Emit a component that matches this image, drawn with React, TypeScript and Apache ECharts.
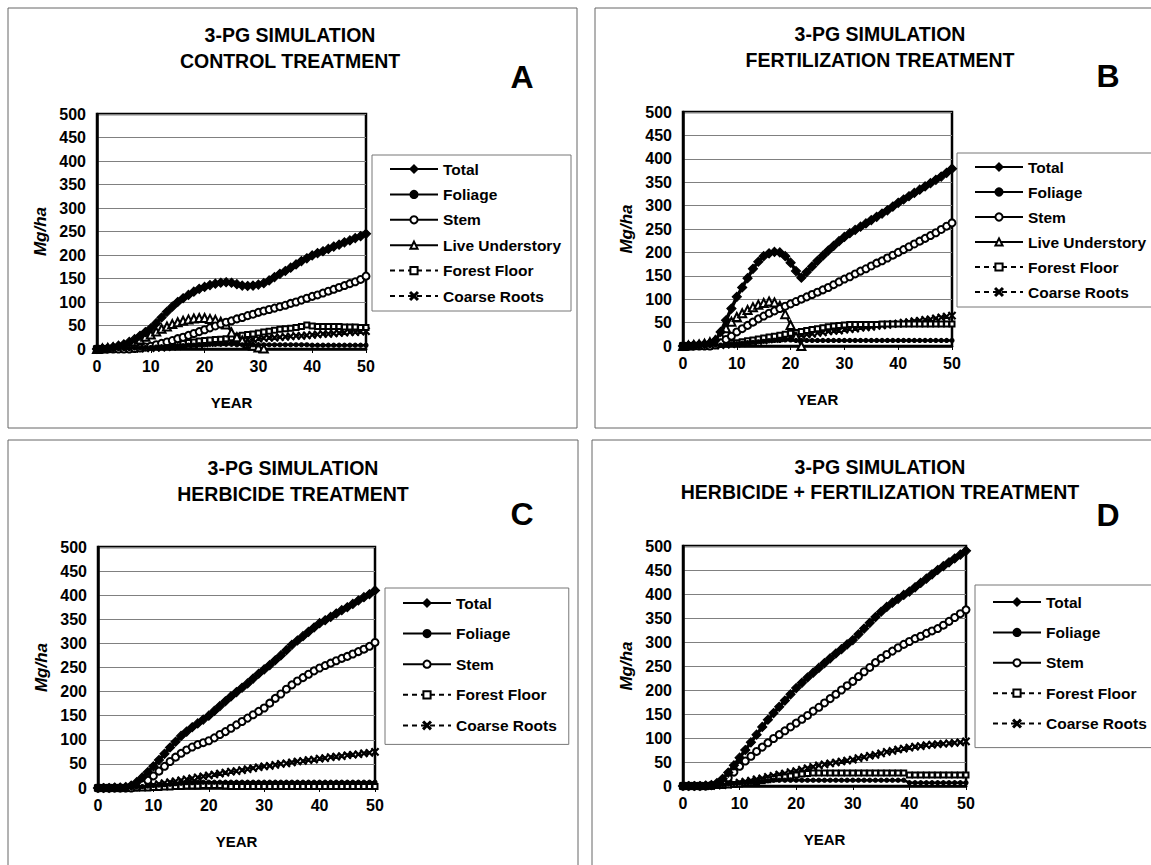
import React, { useEffect, useRef } from "react";
import * as echarts from "echarts";

const YEARS = [0,1,2,3,4,5,6,7,8,9,10,11,12,13,14,15,16,17,18,19,20,21,22,23,24,25,26,27,28,29,30,31,32,33,34,35,36,37,38,39,40,41,42,43,44,45,46,47,48,49,50];
const X_TICKS = [0, 10, 20, 30, 40, 50];
const Y_TICKS = [0, 50, 100, 150, 200, 250, 300, 350, 400, 450, 500];

// Panel A - Control
const A_TOTAL = [0,1,2,4,7,10,15,21,28,36,44,55,67,79,90,100,108,115,122,128,132,136,139,141,142,141,138,135,134,135,137,140,146,153,160,166,173,180,187,193,199,204,208,213,218,222,227,231,236,240,245];
const A_FOLIAGE = [0,0,0,0,1,1,1,2,2,3,3,4,5,5,6,7,7,8,8,9,9,10,10,10,10,10,9,9,9,9,9,9,9,9,9,9,9,9,9,9,8,8,8,8,8,8,8,8,8,8,8];
const A_STEM = [0,0,0,0,0,0,0,1,2,4,6,9,12,15,18,22,25,29,33,37,41,45,49,53,57,60,64,67,71,74,78,81,84,87,90,93,97,100,104,108,112,115,119,123,127,131,135,139,143,148,155];
const A_LIVE = [0,1,2,3,5,7,10,14,20,26,31,37,43,48,53,57,60,63,65,66,66,64,62,58,52,35,25,18,12,7,3,1];
const A_FLOOR = [0,0,0,1,1,2,2,3,4,5,6,7,8,9,10,11,12,14,15,17,18,19,20,21,22,24,27,29,31,32,34,36,38,40,42,43,44,46,48,51,49,48,48,48,48,48,47,47,47,46,46];
const A_ROOTS = [0,0,0,0,0,0,1,1,1,2,2,3,3,4,5,6,7,8,9,10,12,13,14,15,16,17,18,19,20,21,22,23,24,24,25,26,27,28,28,29,30,31,32,32,33,34,35,36,36,37,38];

// Panel B - Fertilization
const B_TOTAL = [0,1,2,3,4,6,12,30,55,80,105,125,145,165,180,192,198,201,200,192,178,160,146,158,170,182,193,204,214,224,233,241,248,255,262,269,276,283,290,298,306,313,320,327,334,341,348,355,362,370,379];
const B_FOLIAGE = [0,0,0,0,1,1,2,2,3,4,5,6,7,8,9,10,11,12,12,13,13,12,12,12,12,12,12,12,12,12,12,12,12,12,12,12,12,12,12,12,12,12,12,12,12,12,12,12,12,12,12];
const B_STEM = [0,0,0,0,0,0,2,7,14,21,30,37,44,51,58,64,70,75,80,85,90,95,100,105,110,115,120,125,131,137,143,148,154,160,165,171,177,182,188,194,200,206,212,218,224,230,236,242,249,256,263];
const B_LIVE = [0,1,2,3,5,8,12,22,38,52,62,70,77,83,88,92,95,93,86,68,45,20,0];
const B_FLOOR = [0,0,0,1,1,2,3,4,5,6,7,9,11,13,15,17,19,21,23,25,27,29,31,33,35,37,39,41,43,44,45,46,46,46,46,46,46,47,47,47,47,47,47,47,47,47,47,47,47,47,47];
const B_ROOTS = [0,0,0,0,0,1,1,2,3,4,5,6,8,9,11,12,14,15,17,19,20,22,23,25,26,28,29,31,32,33,35,36,37,39,40,41,43,44,45,47,48,50,51,53,54,56,57,59,61,63,65];

// Panel C - Herbicide
const C_TOTAL = [0,0,0,1,1,2,5,12,22,33,45,58,71,84,96,108,117,126,134,142,150,160,170,180,190,199,208,217,227,237,246,255,265,275,286,297,306,315,324,333,342,348,355,362,369,375,382,389,396,402,410];
const C_FOLIAGE = [0,0,0,0,0,1,1,2,3,4,5,6,7,8,9,10,11,11,12,12,12,12,12,12,12,12,12,12,12,12,12,12,12,12,12,12,12,12,12,12,12,12,12,12,12,12,12,12,12,12,12];
const C_STEM = [0,0,0,0,0,0,0,2,8,16,25,35,45,55,64,72,79,85,90,94,98,104,111,117,124,131,138,145,152,159,166,176,186,195,205,214,222,229,236,243,249,254,259,264,269,273,278,283,288,294,302];
const C_FLOOR = [0,0,0,0,0,0,0,0,0,0,1,1,2,2,3,3,4,4,4,5,5,5,5,4,3,3,3,3,3,3,3,3,3,3,3,3,3,3,3,3,3,3,3,3,3,3,3,3,3,3,3];
const C_ROOTS = [0,0,0,0,0,0,1,2,3,4,6,8,10,12,14,16,18,20,22,24,26,28,30,32,34,35,37,39,41,43,45,46,48,50,51,53,55,56,58,59,61,62,64,65,66,68,69,70,72,73,75];

// Panel D - Herbicide + Fertilization
const D_TOTAL = [0,0,0,0,1,2,6,15,28,43,59,75,91,107,123,138,152,165,178,191,204,215,226,236,246,256,266,276,285,295,304,316,328,340,352,363,373,382,390,398,405,414,423,432,441,450,458,466,474,482,490];
const D_FOLIAGE = [0,0,0,0,0,1,2,3,4,5,6,7,8,9,10,11,12,12,12,12,12,12,12,12,12,12,12,12,12,12,12,12,12,12,12,12,12,12,12,12,7,7,7,7,7,7,7,7,7,7,7];
const D_STEM = [0,0,0,0,0,1,3,8,17,29,41,52,62,72,81,90,99,107,115,123,131,139,147,156,164,173,182,191,200,209,218,228,238,247,257,266,274,281,288,295,301,307,312,318,323,328,335,343,351,359,367];
const D_FLOOR = [0,0,0,0,0,0,1,1,2,3,4,5,7,9,11,13,15,17,19,21,23,25,26,27,27,27,27,27,27,27,27,27,27,27,27,27,27,27,27,27,23,23,23,23,23,23,23,23,23,23,23];
const D_ROOTS = [0,0,0,0,0,0,1,2,3,5,7,9,11,14,16,19,21,24,26,29,31,34,37,40,43,45,47,49,51,53,55,58,60,63,65,68,71,73,76,78,80,82,83,85,86,87,88,89,90,91,93];

const NAMES_FULL = ["Total", "Foliage", "Stem", "Live Understory", "Forest Floor", "Coarse Roots"];
const NAMES_SHORT = ["Total", "Foliage", "Stem", "Forest Floor", "Coarse Roots"];

const FONT = '"Liberation Sans", Arial, sans-serif';
const XPATH = "path://M1,0L5,4L9,0L10,1L6,5L10,9L9,10L5,6L1,10L0,9L4,5L0,1Z";

const STYLE: Record<string, any> = {
  Total: { width: 3.5, type: "solid", symbol: "diamond", size: 9, z: 9 },
  Foliage: { width: 2.5, type: "solid", symbol: "circle", size: 4, z: 8 },
  Stem: { width: 1.2, type: "solid", symbol: "emptyCircle", size: 7, z: 7 },
  "Live Understory": { width: 2, type: "solid", symbol: "emptyTriangle", size: 8, z: 6 },
  "Forest Floor": { width: 2, type: [5, 4], symbol: "emptyRect", size: 5, z: 5 },
  "Coarse Roots": { width: 2, type: [5, 4], symbol: XPATH, size: 7, z: 4 },
};

const PANELS = [
  { grid: { left: 97, top: 114, width: 269, height: 235 }, names: NAMES_FULL, data: [A_TOTAL, A_FOLIAGE, A_STEM, A_LIVE, A_FLOOR, A_ROOTS],
    legend: { left: 372, top: 155, padding: [6, 10, 7, 17], itemGap: 9.4 } },
  { grid: { left: 683, top: 112, width: 269, height: 234 }, names: NAMES_FULL, data: [B_TOTAL, B_FOLIAGE, B_STEM, B_LIVE, B_FLOOR, B_ROOTS],
    legend: { left: 957, top: 153, padding: [6, 12, 7, 17], itemGap: 9 } },
  { grid: { left: 98, top: 547, width: 277, height: 241 }, names: NAMES_SHORT, data: [C_TOTAL, C_FOLIAGE, C_STEM, C_FLOOR, C_ROOTS],
    legend: { left: 385, top: 588, padding: [7, 12, 11, 17], itemGap: 14.6 } },
  { grid: { left: 683, top: 546, width: 283, height: 240 }, names: NAMES_SHORT, data: [D_TOTAL, D_FOLIAGE, D_STEM, D_FLOOR, D_ROOTS],
    legend: { left: 975, top: 585, padding: [9, 12, 16, 17], itemGap: 14.4 } },
];

const TITLES = [
  { x: 290, y1: 35, y2: 61, t2: "CONTROL TREATMENT", letter: "A", lx: 522, ly: 77 },
  { x: 880, y1: 34, y2: 60, t2: "FERTILIZATION TREATMENT", letter: "B", lx: 1108, ly: 76 },
  { x: 293, y1: 468, y2: 494, t2: "HERBICIDE TREATMENT", letter: "C", lx: 522, ly: 514 },
  { x: 880, y1: 467, y2: 492, t2: "HERBICIDE + FERTILIZATION TREATMENT", letter: "D", lx: 1108, ly: 515 },
];

const BOXES = [
  { x: 8, y: 8, width: 569, height: 420 },
  { x: 595, y: 8, width: 600, height: 420 },
  { x: 8, y: 440, width: 570, height: 440 },
  { x: 592, y: 440, width: 600, height: 440 },
];

function buildOption() {
  const grids: any[] = [];
  const xAxes: any[] = [];
  const yAxes: any[] = [];
  const series: any[] = [];
  const legends: any[] = [];
  PANELS.forEach((p, i) => {
    grids.push({ ...p.grid, show: true, borderColor: "#000", borderWidth: 2.5, backgroundColor: "#fff" });
    xAxes.push({
      type: "value", gridIndex: i, min: X_TICKS[0], max: X_TICKS[X_TICKS.length - 1], interval: 10,
      name: "YEAR", nameLocation: "middle", nameGap: 46,
      nameTextStyle: { fontFamily: FONT, fontWeight: "bold", fontSize: 15, color: "#000" },
      axisLine: { show: true, onZero: false, lineStyle: { color: "#000", width: 2.5 } },
      axisTick: { show: true, length: 4, lineStyle: { color: "#000", width: 1 } },
      axisLabel: { fontFamily: FONT, fontWeight: "bold", fontSize: 16, color: "#000", margin: 9 },
      splitLine: { show: false },
    });
    yAxes.push({
      type: "value", gridIndex: i, min: Y_TICKS[0], max: Y_TICKS[Y_TICKS.length - 1], interval: 50,
      name: "Mg/ha", nameLocation: "middle", nameGap: 48, nameRotate: 90,
      nameTextStyle: { fontFamily: FONT, fontWeight: "bold", fontStyle: "italic", fontSize: 17, color: "#000" },
      axisLine: { show: true, lineStyle: { color: "#000", width: 2.5 } },
      axisTick: { show: false },
      axisLabel: { fontFamily: FONT, fontWeight: "bold", fontSize: 16, color: "#000", margin: 11 },
      splitLine: { show: true, lineStyle: { color: "#808080", width: 1 } },
    });
    p.names.forEach((name, k) => {
      const st = STYLE[name];
      const vals = p.data[k];
      series.push({
        type: "line", name, xAxisIndex: i, yAxisIndex: i,
        data: vals.map((v, j) => [YEARS[j], v]),
        showSymbol: true, symbol: st.symbol, symbolSize: st.size, z: st.z,
        lineStyle: { color: "#000", width: st.width, type: st.type },
        itemStyle: { color: "#000", borderColor: "#000", borderWidth: 1.2 },
        emphasis: { disabled: true }, silent: true,
      });
    });
    legends.push({
      data: p.names, orient: "vertical", left: p.legend.left, top: p.legend.top,
      padding: p.legend.padding, itemGap: p.legend.itemGap, itemWidth: 48, itemHeight: 9,
      borderColor: "#777", borderWidth: 1, backgroundColor: "#fff",
      textStyle: { fontFamily: FONT, fontWeight: "bold", fontSize: 15.5, color: "#000" },
      selectedMode: false,
    });
  });

  const graphic: any[] = [];
  BOXES.forEach((b) => {
    graphic.push({ type: "rect", shape: b, style: { fill: "none", stroke: "#666", lineWidth: 1 }, z: -1, silent: true });
  });
  TITLES.forEach((t) => {
    graphic.push({ type: "text", x: t.x, y: t.y1, style: { text: "3-PG SIMULATION", font: `bold 19.5px ${FONT}`, fill: "#000", align: "center", verticalAlign: "middle" } });
    graphic.push({ type: "text", x: t.x, y: t.y2, style: { text: t.t2, font: `bold 19.5px ${FONT}`, fill: "#000", align: "center", verticalAlign: "middle" } });
    graphic.push({ type: "text", x: t.lx, y: t.ly, style: { text: t.letter, font: `bold 32px ${FONT}`, fill: "#000", align: "center", verticalAlign: "middle" } });
  });

  return {
    animation: false,
    backgroundColor: "#fff",
    grid: grids, xAxis: xAxes, yAxis: yAxes, series, legend: legends, graphic,
  };
}

export default function App() {
  const ref = useRef<HTMLDivElement>(null);
  useEffect(() => {
    if (!ref.current) return;
    const chart = echarts.init(ref.current, undefined, { renderer: "svg" });
    chart.setOption(buildOption() as any);
    return () => chart.dispose();
  }, []);
  return (
    <div
      ref={ref}
      style={{ position: "absolute", left: 0, top: 0, width: 1151, height: 865, background: "#fff" }}
    />
  );
}
